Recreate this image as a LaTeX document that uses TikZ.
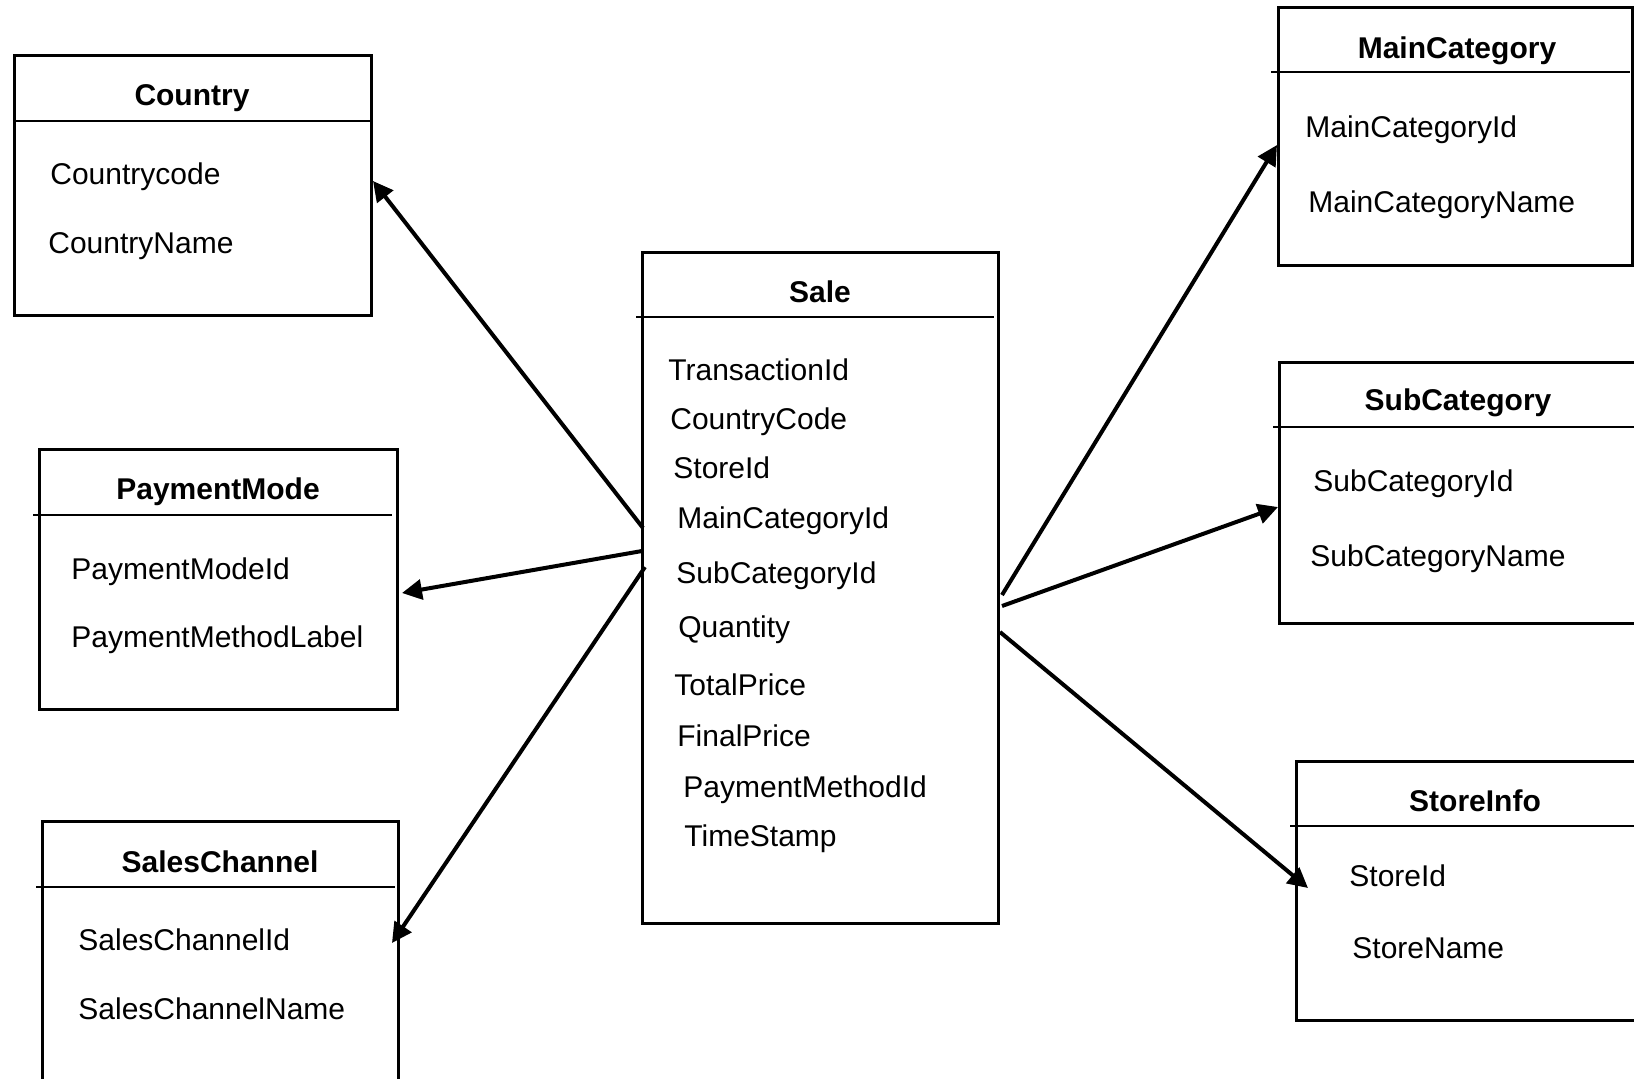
\documentclass[tikz,border=0pt]{standalone}
\usepackage{fontspec}
\setmainfont{Liberation Sans}
\usetikzlibrary{arrows.meta,calc,positioning}
\tikzset{
	tbl/.style={draw, rectangle, line width=1.5pt, anchor=north west, inner sep=0pt, outer sep=0pt},
	tbltitle/.style={font=\bfseries\fontsize{15}{18}\selectfont, inner sep=0pt},
	fld/.style={anchor=west, font=\fontsize{15}{18}\selectfont, inner sep=0pt},
	hline/.style={line width=0.75pt},
	fk/.style={line width=2pt, -{Triangle[length=10pt,width=10pt]}}
}

\begin{document}
\begin{tikzpicture}[x=0.5pt,y=-0.5pt]
  \path[use as bounding box, clip] (0,0) rectangle (1634,1078);

  % left column
  \node[tbl, minimum width=178.5pt, minimum height=130pt] (country) at (14,55) {};
  \node[tbltitle] (countryT) at (192,98) {Country};
  \draw[hline] (14,121) -- (371,121);
  \node[fld] (countryF1) at (50,177) {Countrycode};
  \node[fld] (countryF2) at (48,246) {CountryName};

  \node[tbl, minimum width=179pt, minimum height=130pt] (paymode) at (39,449) {};
  \node[tbltitle] (paymodeT) at (218,492) {PaymentMode};
  \draw[hline] (33,515) -- (392,515);
  \node[fld] (paymodeF1) at (71,572) {PaymentModeId};
  \node[fld] (paymodeF2) at (71,640) {PaymentMethodLabel};

  \node[tbl, minimum width=178pt, minimum height=139.5pt] (saleschan) at (42,821) {};
  \node[tbltitle] (saleschanT) at (220,862) {SalesChannel};
  \draw[hline] (36,887) -- (395,887);
  \node[fld] (saleschanF1) at (78,940) {SalesChannelId};
  \node[fld] (saleschanF2) at (78,1009) {SalesChannelName};

  % fact table
  \node[tbl, minimum width=178pt, minimum height=335.5pt] (sale) at (642,252) {};
  \node[tbltitle] (saleT) at (820,292) {Sale};
  \draw[hline] (636,317) -- (994,317);
  \node[fld] (saleF1) at (668,370) {TransactionId};
  \node[fld] (saleF2) at (670,422) {CountryCode};
  \node[fld] (saleF3) at (673,468) {StoreId};
  \node[fld] (saleF4) at (677,521) {MainCategoryId};
  \node[fld] (saleF5) at (676,576) {SubCategoryId};
  \node[fld] (saleF6) at (678,630) {Quantity};
  \node[fld] (saleF7) at (674,685) {TotalPrice};
  \node[fld] (saleF8) at (677,736) {FinalPrice};
  \node[fld] (saleF9) at (683,790) {PaymentMethodId};
  \node[fld] (saleF10) at (684,839) {TimeStamp};

  % right column
  \node[tbl, minimum width=177pt, minimum height=129pt] (maincat) at (1278,7) {};
  \node[tbltitle] (maincatT) at (1457,51) {MainCategory};
  \draw[hline] (1271,72) -- (1630,72);
  \node[fld] (maincatF1) at (1305,130) {MainCategoryId};
  \node[fld] (maincatF2) at (1308,205) {MainCategoryName};

  \node[tbl, minimum width=190.5pt, minimum height=130.5pt] (subcat) at (1279,362) {};
  \node[tbltitle] (subcatT) at (1458,403) {SubCategory};
  \draw[hline] (1273,427) -- (1634,427);
  \node[fld] (subcatF1) at (1313,484) {SubCategoryId};
  \node[fld] (subcatF2) at (1310,559) {SubCategoryName};

  \node[tbl, minimum width=182pt, minimum height=129.5pt] (storeinfo) at (1296,761) {};
  \node[tbltitle] (storeinfoT) at (1475,801) {StoreInfo};
  \draw[hline] (1290,826) -- (1634,826);
  \node[fld] (storeinfoF1) at (1349,876) {StoreId};
  \node[fld] (storeinfoF2) at (1352,948) {StoreName};

  % references
  \draw[fk] ($(sale.north west)+(1,276)$) -- ($(country.north east)+(2,126)$);
  \draw[fk] ($(sale.north west)+(0,299)$) -- ($(paymode.north east)+(5,144)$);
  \draw[fk] ($(sale.north west)+(3,315)$) -- ($(saleschan.north east)+(-6,122)$);
  \draw[fk] ($(sale.north east)+(4,343)$) -- ($(maincat.north west)+(-1,138)$);
  \draw[fk] ($(sale.north east)+(4,354)$) -- ($(subcat.north west)+(-1,145)$);
  \draw[fk] ($(sale.north east)+(2,380)$) -- ($(storeinfo.north west)+(12,127)$);
\end{tikzpicture}
\end{document}
